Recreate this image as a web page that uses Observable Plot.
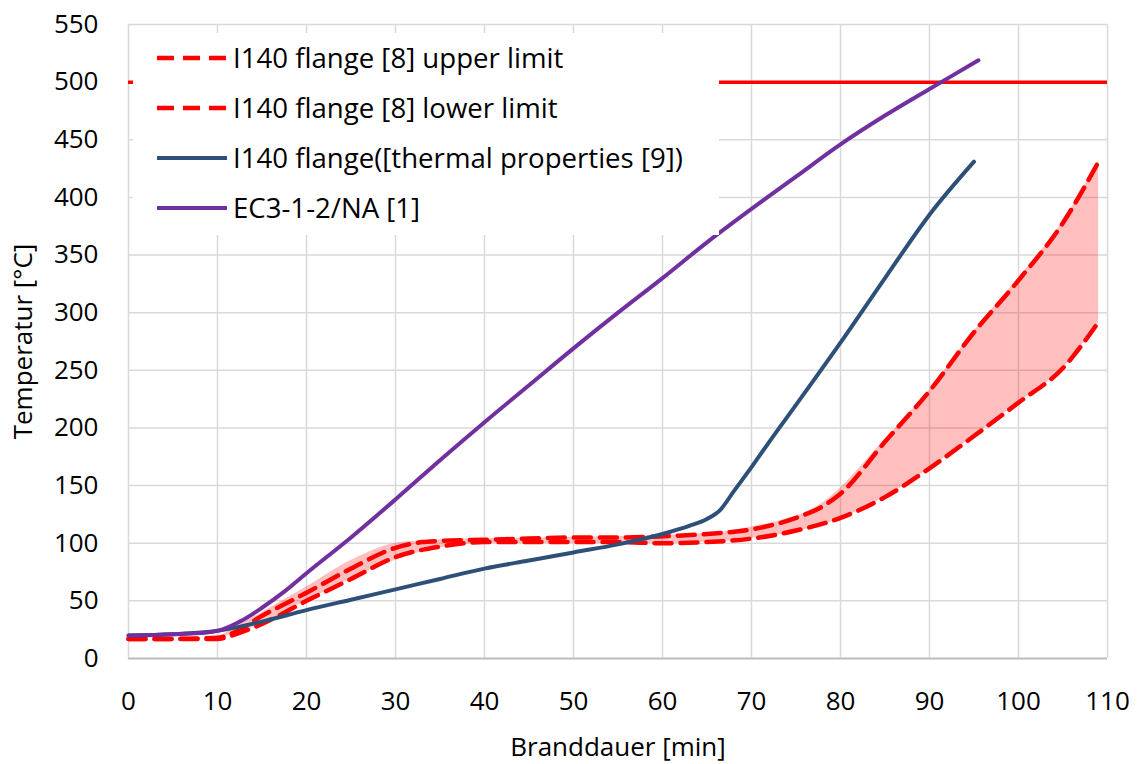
<!DOCTYPE html>
<html><head><meta charset="utf-8">
<script src="https://cdn.jsdelivr.net/npm/d3@7"></script>
<script src="https://cdn.jsdelivr.net/npm/@observablehq/plot@0.6"></script>
<style>
body{margin:0;background:#fff;}
#wrap{position:relative;width:1142px;height:764px;font-family:"Open Sans",sans-serif;}
#legend{position:absolute;left:133px;top:33px;width:586px;height:202px;background:#fff;}
.row{height:50px;display:flex;align-items:center;}
.row svg{margin-left:24px;margin-right:6px;flex:none;}
.row span{font-size:27.6px;color:#000;white-space:nowrap;line-height:1;}
</style></head><body><div id="wrap"><div id="legend"></div></div>
<script>
// ---- data ----
const xTicks = [0,10,20,30,40,50,60,70,80,90,100,110];
const yTicks = [0,50,100,150,200,250,300,350,400,450,500,550];
const limitTemp = 500;

const ecTime = [0,5,10,12.5,15,17.5,20,25,30,35,40,45,50,55,60,65,70,75,80,85,90,95.5];
const ecTemp = [20,21,24,32,44,58,74,105,138,172,205,237,269,300,330,361,390,418,446,471,494,519];

const blueTime = [0,5,10,15,20,25,30,35,40,45,50,55,60,63,65,66.5,68,70,72,75,80,85,90,95];
const blueTemp = [20,21,24,32,42,51,60,69,78,85,92,99,108,115,121,129,145,166,188,220,274,330,385,431];

const upTime = [0,5,10,12,15,17.5,20,25,30,33,35,40,45,50,55,60,65,70,75,78,80,85,90,95,100,105,109];
const upTemp = [17,17,18,23,37,47,57,78,96,101,102,103,104,105,105,106,108,112,122,132,143,188,232,283,328,378,431];

const loTime = [0,5,10,12,15,20,25,30,35,40,45,50,55,60,65,70,75,80,85,90,95,100,105,109];
const loTemp = [17,17,17,21,30,50,69,88,97,101,101,101,101,100,101,104,111,122,140,165,193,222,252,292];

const bandTime = [10,15,20,25,31,40,50,60,66,70,78,85,90,95,100,105,109];
const bandHigh = [18,40,62,85,101,104,105,107,109,114,135,190,233,284,330,379,432];
const bandLow  = [17,30,50,69,88,100,100,100,101,104,116,140,165,193,222,252,292];

const seriesNames = ["I140 flange [8] upper limit","I140 flange [8] lower limit","I140 flange([thermal properties [9])","EC3-1-2/NA [1]"];
const colors = {red:"#ff0000", blue:"#2e5078", purple:"#7030a0", grid:"#d9d9d9", axis:"#bfbfbf"};

// ---- build tables ----
const zip = (xs, ys) => xs.map((t,i)=>({t, v: ys[i]}));
const ec = zip(ecTime, ecTemp), blue = zip(blueTime, blueTemp), up = zip(upTime, upTemp), lo = zip(loTime, loTemp);
const band = bandTime.map((t,i)=>({t, lo: bandLow[i], hi: bandHigh[i]}));

const plot = Plot.plot({
  width:1142, height:764, marginLeft:128, marginRight:35, marginTop:24, marginBottom:106,
  style:{fontFamily:"'Open Sans', sans-serif", fontSize:"26px", color:"#000", background:"#fff", overflow:"visible"},
  x:{domain:[0,110]},
  y:{domain:[0,550]},
  marks:[
    Plot.gridX(xTicks,{stroke:colors.grid, strokeOpacity:1, strokeWidth:1.5}),
    Plot.gridY(yTicks,{stroke:colors.grid, strokeOpacity:1, strokeWidth:1.5}),
    Plot.ruleY([0],{stroke:colors.axis, strokeWidth:2}),
    Plot.areaY(band,{x:"t", y1:"lo", y2:"hi", fill:colors.red, fillOpacity:0.25, curve:"monotone-x"}),
    Plot.ruleY([limitTemp],{stroke:colors.red, strokeWidth:3.5}),
    Plot.line(lo,{x:"t", y:"v", stroke:colors.red, strokeWidth:4.5, strokeDasharray:"17,9", curve:"monotone-x"}),
    Plot.line(up,{x:"t", y:"v", stroke:colors.red, strokeWidth:4.5, strokeDasharray:"17,9", curve:"monotone-x"}),
    Plot.line(blue,{x:"t", y:"v", stroke:colors.blue, strokeWidth:4, curve:"monotone-x", strokeLinecap:"round"}),
    Plot.line(ec,{x:"t", y:"v", stroke:colors.purple, strokeWidth:4, curve:"catmull-rom", strokeLinecap:"round"}),
    Plot.axisX(xTicks,{tickSize:0, tickPadding:33, label:"Branddauer [min]", labelAnchor:"center", labelOffset:97, labelArrow:"none"}),
    Plot.axisY(yTicks,{tickSize:0, tickPadding:30, label:"Temperatur [°C]", labelAnchor:"center", labelOffset:115, labelArrow:"none"})
  ]
});
const wrap = document.getElementById("wrap");
wrap.insertBefore(plot, wrap.firstChild);

// ---- legend ----
const legend = document.getElementById("legend");
const legendStyles = [
  {stroke:colors.red, dash:"17,9", w:4.5},
  {stroke:colors.red, dash:"17,9", w:4.5},
  {stroke:colors.blue, dash:null, w:4},
  {stroke:colors.purple, dash:null, w:4}
];
seriesNames.forEach((name,i)=>{
  const s = legendStyles[i];
  const row = document.createElement("div");
  row.className = "row";
  row.innerHTML = `<svg width="70" height="10"><line x1="0" x2="70" y1="5" y2="5" stroke="${s.stroke}" stroke-width="${s.w}" ${s.dash?`stroke-dasharray="${s.dash}"`:""} stroke-linecap="${s.dash?"butt":"round"}"/></svg><span>${name}</span>`;
  legend.appendChild(row);
});
</script>
</body></html>
